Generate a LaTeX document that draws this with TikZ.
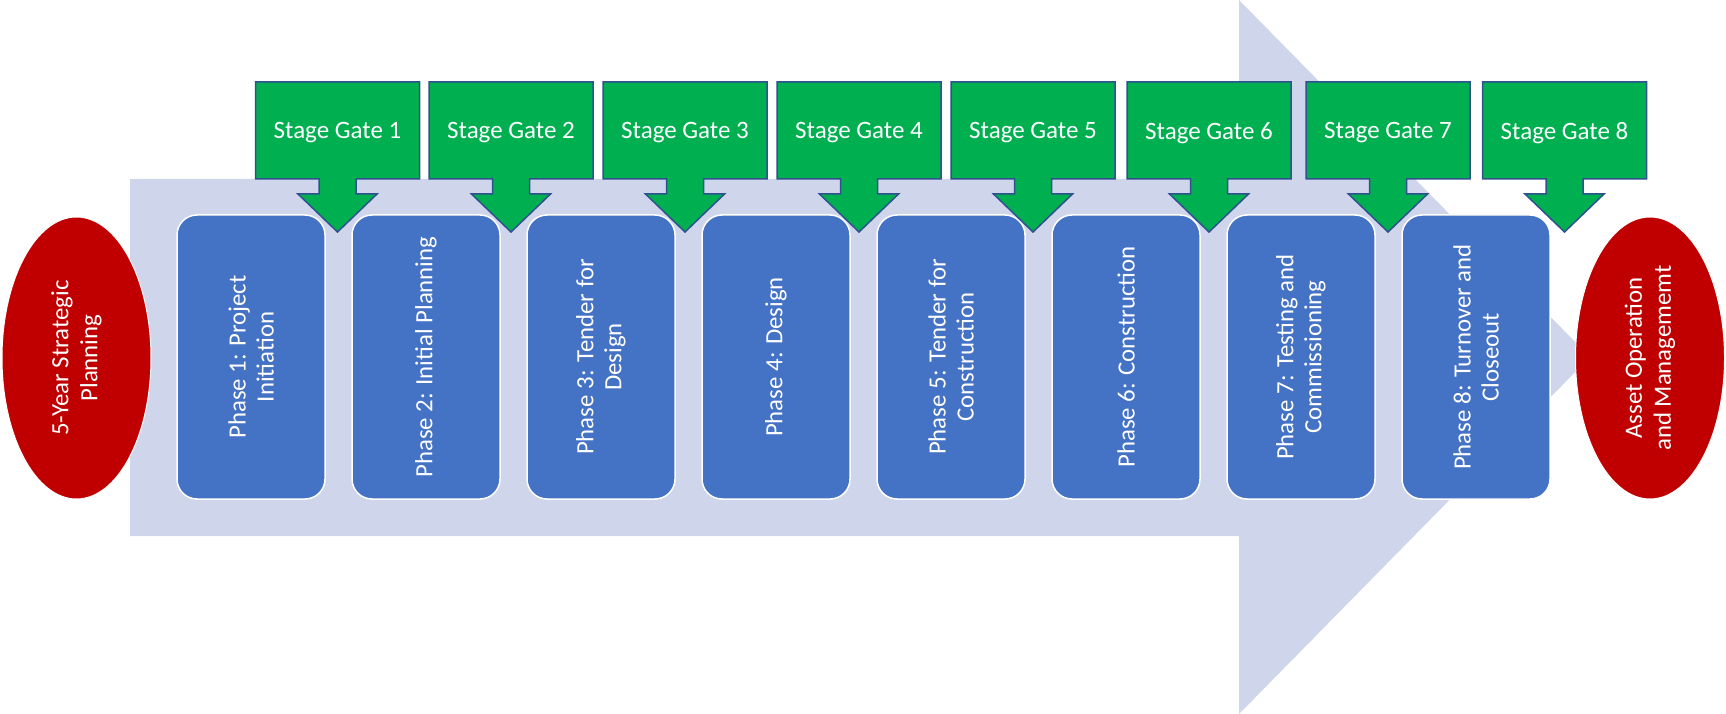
\documentclass[tikz,border=0pt]{standalone}
\usepackage{fontspec}
\setmainfont{Carlito}
\usetikzlibrary{positioning, calc, shapes.geometric}
\definecolor{flowbg}{HTML}{CFD5EA}
\definecolor{phaseblue}{HTML}{4472C4}
\definecolor{gategreen}{HTML}{00B050}
\definecolor{gateline}{HTML}{2F528F}
\definecolor{planred}{HTML}{C00000}

\begin{document}
\begin{tikzpicture}[x=1pt, y=-1pt,
	phase/.style={draw=white, line width=1.5pt, fill=phaseblue, rounded corners=20pt, text=white, align=center,
		minimum width=284pt, minimum height=148pt, inner sep=0pt, rotate=90, font=\fontsize{24.8}{28}\selectfont},
	gate/.style={draw=gateline, line width=1.5pt, fill=gategreen},
	gatetext/.style={text=white, font=\fontsize{25}{28}\selectfont},
	plan/.style={ellipse, draw=white, line width=1pt, fill=planred, text=white, align=center,
		minimum width=282pt, minimum height=149pt, inner sep=0pt, rotate=90, font=\fontsize{24.8}{29}\selectfont}]
\useasboundingbox (0,0) rectangle (1726,714);
\fill[flowbg] (130,179) -- (1239,179) -- (1239,0) -- (1590,357) -- (1239,714) -- (1239,536) -- (130,536) -- cycle;
\foreach \i/\t in {1/{Phase 1: Project\\Initiation}, 2/{Phase 2: Initial Planning}, 3/{Phase 3: Tender for\\Design},
	4/{Phase 4: Design}, 5/{Phase 5: Tender for\\Construction}, 6/{Phase 6: Construction},
	7/{Phase 7: Testing and\\Commissioning}, 8/{Phase 8: Turnover and\\Closeout}}
	\node[phase] (ph\i) at (251+175*\i-175, 357) {\t};
\foreach \i/\x in {1/337.5, 2/511, 3/685, 4/859, 5/1033, 6/1209, 7/1388, 8/1564.5} {
	\coordinate (g\i) at (\x, 82);
	\draw[gate] ($(g\i)+(-82,0)$) -- ++(164,0) -- ++(0,97) -- ++(-63.5,0) -- ++(0,15) -- ++(21,0) -- ++(-39.5,38)
		-- ++(-39.5,-38) -- ++(21,0) -- ++(0,-15) -- ++(-63.5,0) -- cycle;
	\node[gatetext] (sg\i) at ($(g\i)+(0,51)$) {Stage Gate \i};
}
\node[plan] (start) at (76.5,358) {5-Year Strategic\\Planning};
\node[plan] (finish) at (1650,358) {Asset Operation\\and Managememt};
\end{tikzpicture}
\end{document}
